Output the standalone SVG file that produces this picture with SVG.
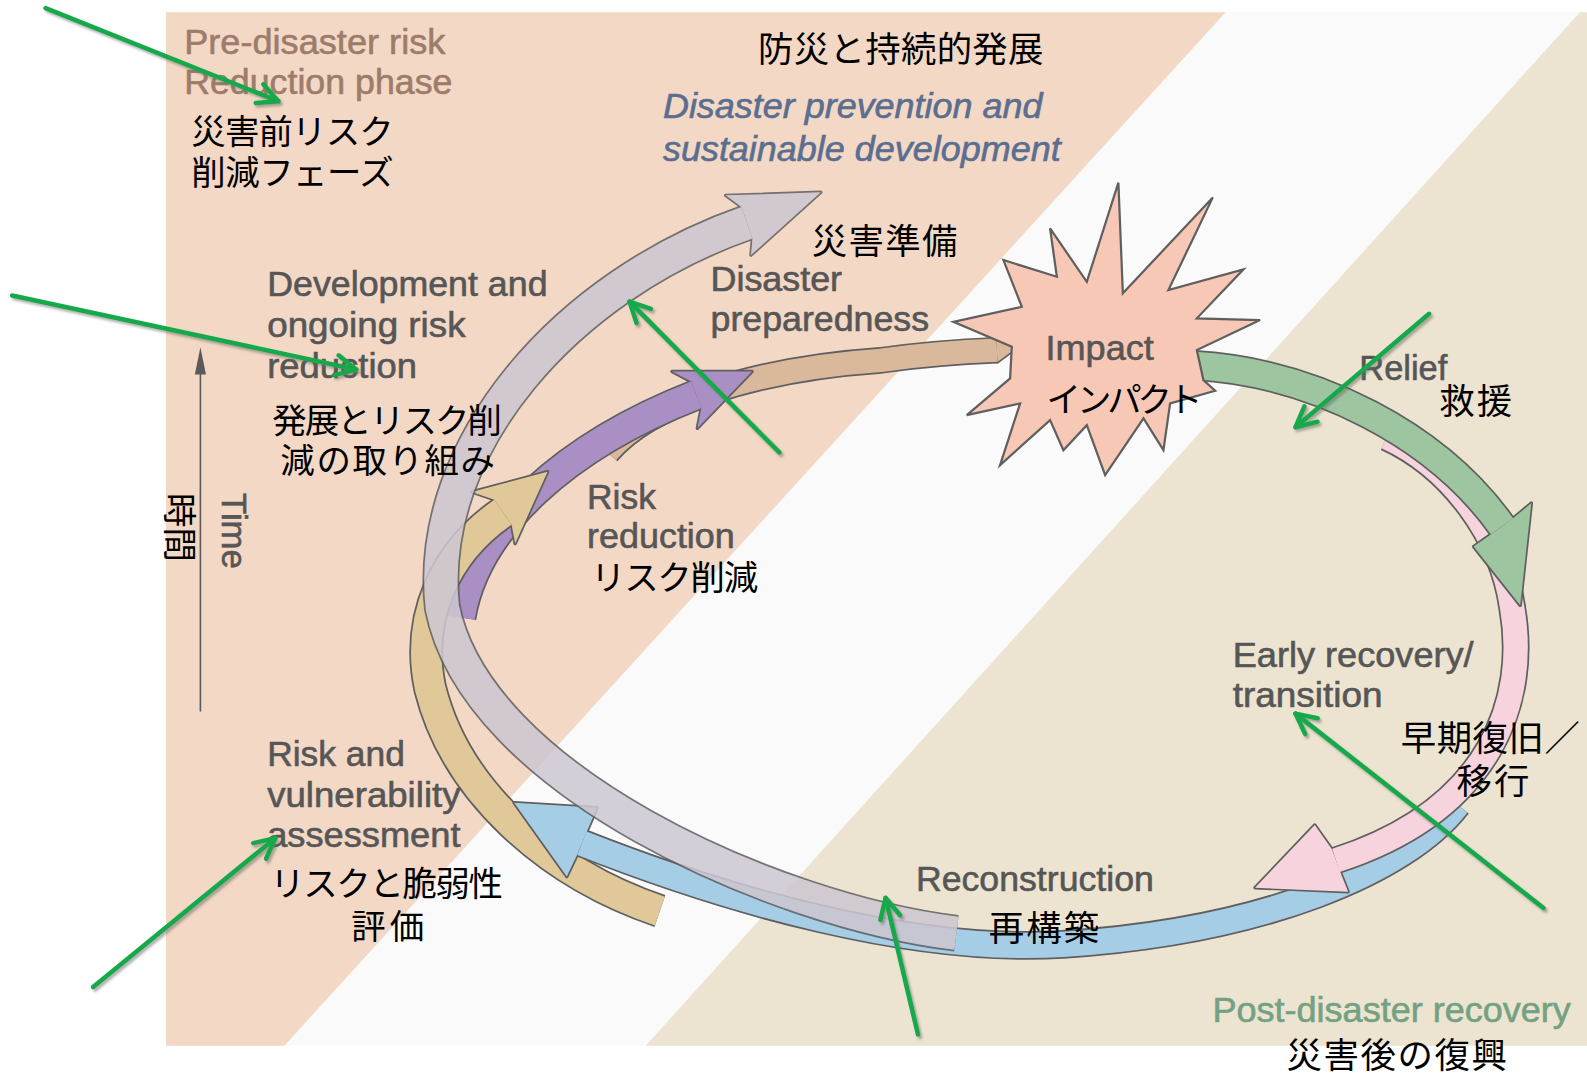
<svg xmlns="http://www.w3.org/2000/svg" width="1587" height="1074" viewBox="0 0 1587 1074">
<defs>
<style>
.en{font-family:"Liberation Sans",Arial,sans-serif;font-size:35px;fill:#565656;stroke:#565656;stroke-width:0.6}
.enb{fill:#9d7c6b;stroke:#9d7c6b}
.eni{font-style:italic;fill:#5b6e8f;stroke:#5b6e8f}
.eng{fill:#74a183;stroke:#74a183}
.jp{font-family:"Noto Sans CJK JP","Noto Sans CJK SC",sans-serif;font-size:34px;fill:#000}
.edge{fill:none;stroke:#5f5f5f}
.hedge{fill:#5f5f5f;stroke:#5f5f5f;stroke-width:3.4;stroke-linejoin:round}
.body{fill:none}
.conn line{stroke:#17a94b;stroke-width:4.5;stroke-linecap:round;marker-end:url(#gh)}
</style>
<marker id="gh" viewBox="-24 -14 28 28" markerWidth="28" markerHeight="28" refX="0" refY="0" orient="auto" markerUnits="userSpaceOnUse">
<path d="M-20,-10 L0,0 L-20,10" fill="none" stroke="#17a94b" stroke-width="4.5" stroke-linecap="round" stroke-linejoin="round"/>
</marker>
<filter id="shadow" filterUnits="userSpaceOnUse" x="0" y="0" width="1587" height="1074">
<feDropShadow dx="2" dy="2.5" stdDeviation="0.8" flood-color="#666" flood-opacity="0.5"/>
</filter>
</defs>
<rect x="0" y="0" width="1587" height="1074" fill="#fff"/>
<g transform="scale(1.01212 1.01225)">
<!-- phase backgrounds -->
<g id="background">
<rect x="164" y="12" width="1404" height="1021" fill="#fafafa"/>
<polygon points="164,12 1211,12 281,1033 164,1033" fill="#f2d8c5"/>
<polygon points="1561,12 1568,12 1568,1033 638,1033" fill="#ece4d0"/>
</g>

<!-- time axis -->
<g id="time-axis">
<line x1="198" y1="703" x2="198" y2="366" stroke="#5a5a5a" stroke-width="1.6"/>
<polygon points="198,343 192.5,370 203.5,370" fill="#5a5a5a"/>
</g>

<!-- cycle bands -->
<g id="cycle">
<g id="band-preparedness">
<path class="edge" stroke-width="26.4" d="M600,447 C640,400 740,365 870,356 C920,349 960,347 985,346"/>
<polygon class="hedge" points="984.5,334.5 1005,343 985.5,357.5"/>
<path class="body" stroke="#d9b89c" stroke-width="23" d="M600,447 C640,400 740,365 870,356 C920,349 960,347 985,346"/>
<polygon fill="#d9b89c" points="984.5,334.5 1005,343 985.5,357.5"/>
</g>
<g id="band-risk-reduction">
<path class="edge" stroke-width="31.4" d="M455,610 C470,520 560,440 688,390"/>
<polygon class="hedge" points="683,377 664,367 743,367 689,423 693,403"/>
<path class="body" stroke="#a98fc3" stroke-width="28" d="M455,610 C470,520 560,440 688,390"/>
<polygon fill="#a98fc3" points="683,377 664,367 743,367 689,423 693,403"/>
</g>
<g id="band-assessment">
<path class="edge" stroke-width="33.4" d="M652,900 C540,862 450,780 425,680 C410,610 440,545 497,506"/>
<polygon class="hedge" points="488.5,493.6 466,486 541,466 509,537 505.5,518.4"/>
<path class="body" stroke="#e0c898" stroke-width="30" d="M652,900 C540,862 450,780 425,680 C410,610 440,545 497,506"/>
<polygon fill="#e0c898" points="488.5,493.6 466,486 541,466 509,537 505.5,518.4"/>
</g>
<g id="band-reconstruction">
<path class="edge" stroke-width="28.4" d="M1440,795 C1390,860 1250,920 1050,933 C900,942 720,890 575,833"/>
<polygon class="hedge" points="580,821 590,798 508,793 560,866 570,845"/>
<path class="body" stroke="#a6cde6" stroke-width="25" d="M1440,795 C1390,860 1250,920 1050,933 C900,942 720,890 575,833"/>
<polygon fill="#a6cde6" points="580,821 590,798 508,793 560,866 570,845"/>
</g>
<g id="band-early-recovery">
<path class="edge" stroke-width="27.4" d="M1370,432 C1435,462 1484,530 1494,600 C1510,690 1475,800 1320,850"/>
<polygon class="hedge" points="1316,839 1299,815 1240,877 1332,881 1324,861"/>
<path class="body" stroke="#f7d4dd" stroke-width="24" d="M1370,432 C1435,462 1484,530 1494,600 C1510,690 1475,800 1320,850"/>
<polygon fill="#f7d4dd" points="1316,839 1299,815 1240,877 1332,881 1324,861"/>
</g>
<g id="band-relief">
<path class="edge" stroke-width="30.4" d="M1180,361 C1300,368 1420,430 1484,520"/>
<polygon class="hedge" points="1495,512 1513,497 1502,598 1456,540 1473,528"/>
<path class="body" stroke="#9dc59f" stroke-width="27" d="M1180,361 C1300,368 1420,430 1484,520"/>
<polygon fill="#9dc59f" points="1495,512 1513,497 1502,598 1456,540 1473,528"/>
</g>
<g id="band-development" opacity="0.86">
<path class="edge" stroke-width="36.4" d="M945,922 C765,900 470,770 437,600 C420,440 560,282 738,220"/>
<polygon class="hedge" points="732.6,204.4 717,193 811,190 742,252 743.4,235.6"/>
<path class="body" stroke="#cdc7d2" stroke-width="33" d="M945,922 C765,900 470,770 437,600 C420,440 560,282 738,220"/>
<polygon fill="#cdc7d2" points="732.6,204.4 717,193 811,190 742,252 743.4,235.6"/>
</g>
<g id="impact">
<polygon fill="#f8c8b6" stroke="#5f5f5f" stroke-width="2.2" stroke-linejoin="miter" points="1105,180.5 1109.4,289.8 1198.3,195 1154.4,286.6 1228.6,266.1 1182.5,314.5 1245,316.2 1182.5,345.8 1189,375.5 1200.6,386 1156.1,398.5 1149.5,444.7 1129.8,413.3 1091.9,469.4 1073.8,420 1050.7,444.7 1037.5,415 988.1,459.5 1007.9,398.5 955.2,410.1 998,373.8 999.7,342.6 942,317.9 1009.6,303.1 991.4,256.9 1044.2,273.4 1037.5,225.6 1073.8,278.4"/>
</g>
</g>

<!-- English labels -->
<g id="labels-en">
<text class="en enb" x="182" y="53" textLength="258" lengthAdjust="spacingAndGlyphs">Pre-disaster risk</text>
<text class="en enb" x="182" y="93" textLength="265" lengthAdjust="spacingAndGlyphs">Reduction phase</text>
<text class="en eni" x="655" y="117" textLength="375" lengthAdjust="spacingAndGlyphs">Disaster prevention and</text>
<text class="en eni" x="655" y="159" textLength="393" lengthAdjust="spacingAndGlyphs">sustainable development</text>
<text class="en" x="702" y="287" textLength="130" lengthAdjust="spacingAndGlyphs">Disaster</text>
<text class="en" x="702" y="327" textLength="216" lengthAdjust="spacingAndGlyphs">preparedness</text>
<text class="en" x="264" y="292" textLength="277" lengthAdjust="spacingAndGlyphs">Development and</text>
<text class="en" x="264" y="333" textLength="196" lengthAdjust="spacingAndGlyphs">ongoing risk</text>
<text class="en" x="264" y="373" textLength="148" lengthAdjust="spacingAndGlyphs">reduction</text>
<text class="en" x="580" y="503" textLength="68" lengthAdjust="spacingAndGlyphs">Risk</text>
<text class="en" x="580" y="541" textLength="146" lengthAdjust="spacingAndGlyphs">reduction</text>
<text class="en" x="1033" y="356" textLength="107" lengthAdjust="spacingAndGlyphs">Impact</text>
<text class="en" x="1343" y="375" textLength="87" lengthAdjust="spacingAndGlyphs">Relief</text>
<text class="en" x="1218" y="659" textLength="238" lengthAdjust="spacingAndGlyphs">Early recovery/</text>
<text class="en" x="1218" y="698" textLength="148" lengthAdjust="spacingAndGlyphs">transition</text>
<text class="en" x="905" y="880" textLength="235" lengthAdjust="spacingAndGlyphs">Reconstruction</text>
<text class="en" x="264" y="757" textLength="136" lengthAdjust="spacingAndGlyphs">Risk and</text>
<text class="en" x="264" y="797" textLength="191" lengthAdjust="spacingAndGlyphs">vulnerability</text>
<text class="en" x="264" y="837" textLength="191" lengthAdjust="spacingAndGlyphs">assessment</text>
<text class="en eng" x="1198" y="1010" textLength="354" lengthAdjust="spacingAndGlyphs">Post-disaster recovery</text>
<text class="en" transform="translate(219,487) rotate(90)" textLength="75" lengthAdjust="spacingAndGlyphs">Time</text>
</g>

<!-- Japanese labels -->
<g id="labels-jp">
<text class="jp" x="189" y="142.5" textLength="200" lengthAdjust="spacing">災害前リスク</text>
<text class="jp" x="189" y="182.5" textLength="200" lengthAdjust="spacing">削減フェーズ</text>
<text class="jp" x="749" y="61.5" textLength="282" lengthAdjust="spacing" style="font-size:35px">防災と持続的発展</text>
<text class="jp" x="802" y="250.5" textLength="144" lengthAdjust="spacing" style="font-size:35px">災害準備</text>
<text class="jp" x="269" y="427.5" textLength="227" lengthAdjust="spacing">発展とリスク削</text>
<text class="jp" x="277" y="467.5" textLength="212" lengthAdjust="spacing">減の取り組み</text>
<text class="jp" x="584" y="582.5" textLength="165" lengthAdjust="spacing">リスク削減</text>
<text class="jp" x="1034" y="407.5" textLength="154" lengthAdjust="spacing">インパクト</text>
<text class="jp" x="1422" y="409" textLength="72" lengthAdjust="spacing" style="font-size:35px">救援</text>
<text class="jp" x="1384" y="742" textLength="177" lengthAdjust="spacing" style="font-size:35px">早期復旧／</text>
<text class="jp" x="1439" y="784" textLength="72" lengthAdjust="spacing" style="font-size:35px">移行</text>
<text class="jp" x="977" y="930" textLength="109" lengthAdjust="spacing" style="font-size:35px">再構築</text>
<text class="jp" x="267" y="885.5" textLength="230" lengthAdjust="spacing">リスクと脆弱性</text>
<text class="jp" x="347" y="927.5" textLength="72" lengthAdjust="spacing">評価</text>
<text class="jp" x="1271" y="1055" textLength="218" lengthAdjust="spacing" style="font-size:35px">災害後の復興</text>
<text class="jp" transform="translate(165,487) rotate(90)" textLength="68" lengthAdjust="spacing">時間</text>
</g>

<!-- green pointer arrows -->
<g id="connectors" class="conn" filter="url(#shadow)">
<line x1="45" y1="8" x2="275" y2="100"/>
<line x1="12" y1="292" x2="352" y2="365"/>
<line x1="770" y1="447" x2="622" y2="298"/>
<line x1="1412" y1="310" x2="1280" y2="422"/>
<line x1="1525" y1="897" x2="1280" y2="705"/>
<line x1="907" y1="1022" x2="875" y2="887"/>
<line x1="92" y1="975" x2="272" y2="828"/>
</g>
</g>
</svg>
